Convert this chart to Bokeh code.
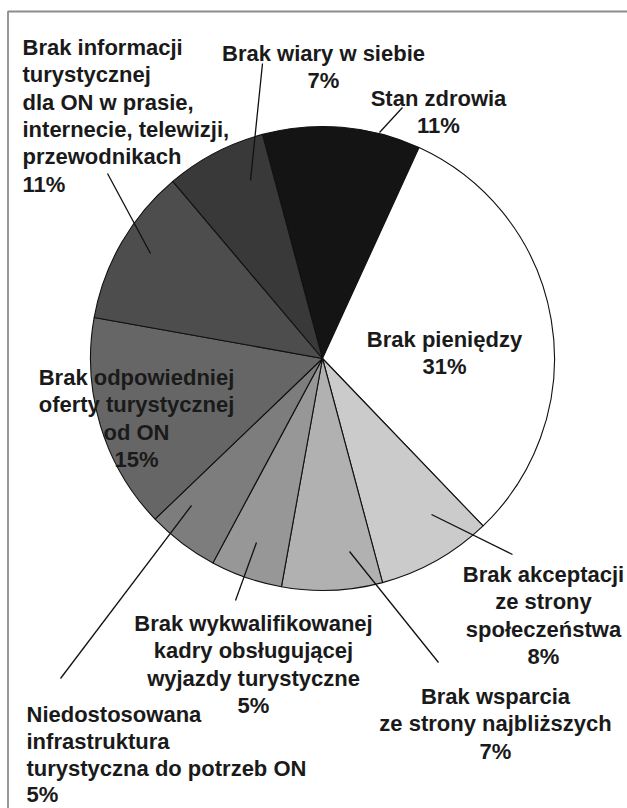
import numpy as np
from bokeh.plotting import figure
from bokeh.models import Range1d, ColumnDataSource
from bokeh.core.properties import value
from bokeh.embed import file_html
from bokeh.resources import INLINE

# ---- data (clockwise from the top) ----
categories = [
    "Stan zdrowia",
    "Brak pieniędzy",
    "Brak akceptacji\nze strony\nspołeczeństwa",
    "Brak wsparcia\nze strony najbliższych",
    "Brak wykwalifikowanej\nkadry obsługującej\nwyjazdy turystyczne",
    "Niedostosowana\ninfrastruktura\nturystyczna do potrzeb ON",
    "Brak odpowiedniej\noferty turystycznej\nod ON",
    "Brak informacji\nturystycznej\ndla ON w prasie,\ninternecie, telewizji,\nprzewodnikach",
    "Brak wiary w siebie",
]
percent = [11, 31, 8, 7, 5, 5, 15, 11, 7]
fills = ["#141414", "#ffffff", "#cbcbcb", "#b1b1b1", "#979797",
         "#7d7d7d", "#666666", "#4d4d4d", "#393939"]

# ---- layout (pixel coordinates, y measured downward from top) ----
W, H = 627, 808
def Y(ry):
    return H - ry

cx, cy, R = 322, 358, 232
start_offset_deg = -15.0          # first slice starts 15 deg left of top

# label anchor: (x, first baseline, align, line step)
label_pos = [
    (438, 98, "center", 27.4),
    (444, 339, "center", 27.4),
    (543, 574, "center", 27.4),
    (495, 696, "center", 27.4),
    (253, 623, "center", 27.4),
    (26, 714, "left", 26.8),
    (136, 377, "center", 27.4),
    (22, 47, "left", 27.3),
    (323, 53, "center", 27.4),
]
leaders = [
    ((402, 107), (379, 132)),
    None,
    ((431, 514), (512, 554)),
    ((349, 551), (438, 662)),
    ((256, 542), (235, 600)),
    ((191, 505), (60, 678)),
    None,
    ((107, 173), (150, 253)),
    ((262, 63), (250, 180)),
]

p = figure(width=W, height=H, output_backend="svg", toolbar_location=None,
           x_range=Range1d(0, W), y_range=Range1d(0, H),
           x_axis_type=None, y_axis_type=None, min_border=0,
           outline_line_color=None, background_fill_color="white",
           border_fill_color="white")
p.grid.visible = False

# frame (top and left edges visible in the reference)
p.line(x=[7.5, 7.5, W], y=[0, Y(11), Y(11)], line_color="#8c8c8c", line_width=1.8)

# wedges
vals = np.array(percent, dtype=float)
cum = np.concatenate([[0], np.cumsum(vals)]) / vals.sum() * 360.0 + start_offset_deg
theta_s = cum[:-1]
theta_e = cum[1:]
src = ColumnDataSource(dict(
    start=np.radians(90 - theta_s), end=np.radians(90 - theta_e), color=fills))
p.wedge(x=cx, y=Y(cy), radius=R, start_angle="start", end_angle="end",
        direction="clock", fill_color="color", line_color="#111111",
        line_width=1.1, source=src)

# leader lines
lx0, ly0, lx1, ly1 = [], [], [], []
for ld in leaders:
    if ld is None:
        continue
    (a, b), (c, d) = ld
    lx0.append(a); ly0.append(Y(b)); lx1.append(c); ly1.append(Y(d))
p.segment(x0=lx0, y0=ly0, x1=lx1, y1=ly1, line_color="#111111", line_width=1.3)

# labels
for cat, pct, (x, by, align, step) in zip(categories, percent, label_pos):
    lines = cat.split("\n") + [f"{pct}%"]
    ys = [Y(by + i * step) for i in range(len(lines))]
    p.text(x=[x] * len(lines), y=ys, text=lines, text_align=align,
           text_baseline="alphabetic", text_font=value("Liberation Sans"),
           text_font_style="bold", text_font_size="22px", text_color="#1a1a1a")

open("out.html", "w").write(file_html(p, INLINE))
